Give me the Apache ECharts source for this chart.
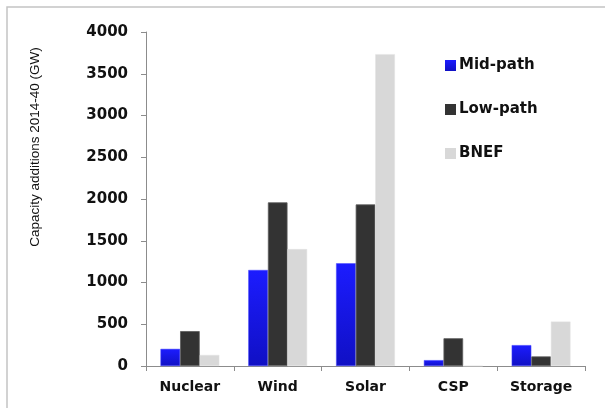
<!DOCTYPE html>
<html>
<head>
<meta charset="utf-8">
<script src="https://cdn.jsdelivr.net/npm/echarts@6/dist/echarts.min.js"></script>
<style>
  html, body { margin: 0; padding: 0; background: #fff; }
  #chart { width: 605px; height: 408px; }
</style>
</head>
<body>
<div id="chart"></div>
<script>
// Capacity additions 2014-40 by technology (GW)
const categories = ['Nuclear', 'Wind', 'Solar', 'CSP', 'Storage'];
const midPath = [205, 1150, 1230, 70, 250];
const lowPath = [418, 1960, 1935, 332, 115];
const bnef = [132, 1400, 3735, 0, 532];
const yTicks = [0, 500, 1000, 1500, 2000, 2500, 3000, 3500, 4000];

const chart = echarts.init(document.getElementById('chart'), null, { renderer: 'canvas' });

const labelFont = 'DejaVu Sans, Verdana, sans-serif';

const blueFill = new echarts.graphic.LinearGradient(0, 0, 0, 1, [
  { offset: 0, color: '#1c1cff' },
  { offset: 1, color: '#1010c4' }
]);

chart.setOption({
  animation: false,
  backgroundColor: '#ffffff',
  graphic: [
    {
      type: 'polyline',
      shape: { points: [[7, 420], [7, 7], [620, 7]] },
      style: { stroke: '#c4c4c4', lineWidth: 1.5, fill: null }
    },
    {
      type: 'text',
      x: 35,
      y: 147,
      rotation: Math.PI / 2,
      style: {
        text: 'Capacity additions 2014-40 (GW)',
        font: '13.5px "Liberation Sans Narrow", "Arial Narrow", sans-serif',
        fill: '#111',
        align: 'center',
        verticalAlign: 'middle'
      }
    }
  ],
  legend: {
    orient: 'vertical',
    left: 440,
    top: 53,
    itemGap: 29,
    itemWidth: 11,
    itemHeight: 11,
    icon: 'rect',
    itemStyle: { borderWidth: 0 },
    textStyle: { fontFamily: labelFont, fontWeight: 'bold', fontSize: 15, color: '#111', padding: [0, 0, 0, -2] },
    data: ['Mid-path', 'Low-path', 'BNEF']
  },
  grid: { left: 146, right: 20, top: 32, bottom: 42, containLabel: false },
  xAxis: {
    type: 'category',
    data: categories,
    boundaryGap: true,
    axisLine: { lineStyle: { color: '#8c8c8c', width: 1 } },
    axisTick: { show: true, length: 5, alignWithLabel: false, lineStyle: { color: '#8c8c8c' } },
    axisLabel: { margin: 14, fontFamily: labelFont, fontWeight: 'bold', fontSize: 14, color: '#111' }
  },
  yAxis: {
    type: 'value',
    min: yTicks[0],
    max: yTicks[yTicks.length - 1],
    interval: 500,
    axisLine: { show: true, lineStyle: { color: '#8c8c8c', width: 1 } },
    axisTick: { show: true, length: 5, lineStyle: { color: '#8c8c8c' } },
    splitLine: { show: false },
    axisLabel: {
      margin: 18,
      fontFamily: labelFont,
      fontWeight: 'bold',
      fontSize: 15,
      color: '#111',
      formatter: (v) => String(v)
    }
  },
  series: [
    {
      name: 'Mid-path',
      type: 'bar',
      data: midPath,
      barGap: '0%',
      barCategoryGap: '33%',
      itemStyle: { color: blueFill, borderColor: '#4a4aff', borderWidth: 0.5 }
    },
    {
      name: 'Low-path',
      type: 'bar',
      data: lowPath,
      barGap: '0%',
      barCategoryGap: '33%',
      itemStyle: { color: '#333333', borderColor: '#5a5a5a', borderWidth: 0.8 }
    },
    {
      name: 'BNEF',
      type: 'bar',
      data: bnef,
      barGap: '0%',
      barCategoryGap: '33%',
      itemStyle: { color: '#d8d8d8', borderColor: '#e2e2e2', borderWidth: 0.5 }
    }
  ]
});
</script>
</body>
</html>
